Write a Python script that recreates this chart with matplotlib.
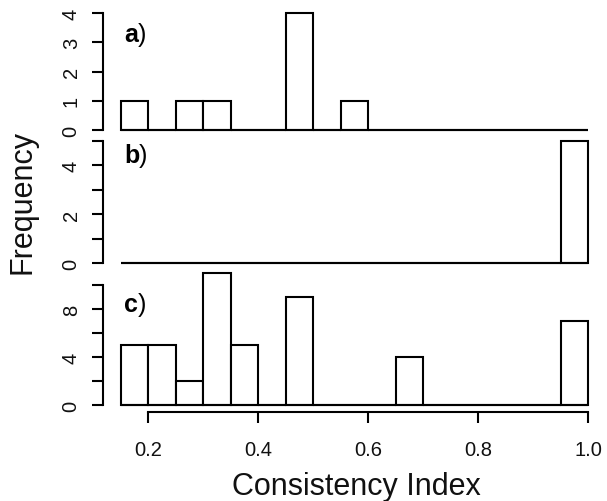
import matplotlib
matplotlib.use("Agg")
import matplotlib.pyplot as plt

plt.rcParams['font.family'] = ['Liberation Sans', 'DejaVu Sans']

# Histogram bins (Consistency Index), width 0.05
bin_edges = [0.15, 0.20, 0.25, 0.30, 0.35, 0.40, 0.45, 0.50, 0.55, 0.60,
             0.65, 0.70, 0.75, 0.80, 0.85, 0.90, 0.95, 1.00]
counts_a = [1, 0, 1, 1, 0, 0, 4, 0, 1, 0, 0, 0, 0, 0, 0, 0, 0]
counts_b = [0, 0, 0, 0, 0, 0, 0, 0, 0, 0, 0, 0, 0, 0, 0, 0, 5]
counts_c = [5, 5, 2, 11, 5, 0, 9, 0, 0, 0, 4, 0, 0, 0, 0, 0, 7]

panel_labels = ["a", "b", "c"]
yticks_a = [0, 1, 2, 3, 4]
ylabels_a = ["0", "1", "2", "3", "4"]
yticks_b = [0, 1, 2, 3, 4, 5]
ylabels_b = ["0", "", "2", "", "4", ""]
yticks_c = [0, 2, 4, 6, 8, 10]
ylabels_c = ["0", "", "4", "", "8", ""]
xticks = [0.2, 0.4, 0.6, 0.8, 1.0]
xticklabels = ["0.2", "0.4", "0.6", "0.8", "1.0"]

W, H = 607, 502
fig = plt.figure(figsize=(W / 100, H / 100), dpi=100)

LW = 1.5
TXT = "#111111"

def make_axes(top, bottom):
    return fig.add_axes([121 / W, (H - bottom) / H, (588 - 121) / W, (bottom - top) / H])

panels = [
    (counts_a, make_axes(14, 131), (0, 4), yticks_a, ylabels_a, 42),
    (counts_b, make_axes(141.7, 264), (0, 5), yticks_b, ylabels_b, 163),
    (counts_c, make_axes(274, 406), (0, 11), yticks_c, ylabels_c, 312),
]

lefts = bin_edges[:-1]
widths = [bin_edges[i + 1] - bin_edges[i] for i in range(len(lefts))]

for idx, (counts, ax, ylim, yt, yl, lab_base) in enumerate(panels):
    ax.bar(lefts, counts, width=widths, align='edge', facecolor='white',
           edgecolor='black', linewidth=LW, clip_on=False, zorder=3)
    ax.hlines(0, bin_edges[0], bin_edges[-1], color='black', linewidth=LW,
              clip_on=False, zorder=4)
    ax.set_xlim(bin_edges[0], bin_edges[-1])
    ax.set_ylim(*ylim)
    ax.patch.set_visible(False)
    for s in ['top', 'right']:
        ax.spines[s].set_visible(False)
    ax.spines['left'].set_position(('outward', 13))
    ax.spines['left'].set_bounds(yt[0], yt[-1])
    ax.spines['left'].set_linewidth(LW)
    ax.set_yticks(yt)
    ax.set_yticklabels(yl, rotation=90, va='center')
    ax.tick_params(axis='y', direction='out', length=8, width=LW,
                   labelsize=14.5, pad=8, colors='black', labelcolor=TXT)
    if idx < 2:
        ax.spines['bottom'].set_visible(False)
        ax.set_xticks([])
    else:
        ax.spines['bottom'].set_position(('outward', 5))
        ax.spines['bottom'].set_bounds(xticks[0], xticks[-1])
        ax.spines['bottom'].set_linewidth(LW)
        ax.set_xticks(xticks)
        ax.set_xticklabels(xticklabels)
        ax.tick_params(axis='x', direction='out', length=8, width=LW,
                       labelsize=14.5, pad=12, colors='black', labelcolor=TXT)
    # panel label: bold letter + normal parenthesis
    t = fig.text(124 / W, (H - lab_base) / H, panel_labels[idx], fontsize=18,
                 fontweight='bold', color='black', ha='left', va='baseline')
    ax.annotate(")", xy=(1, H - lab_base), xycoords=(t, 'figure pixels'),
                fontsize=18, color='black', ha='left', va='baseline',
                annotation_clip=False)

fig.text(23 / W, (H - 202) / H, "Frequency", rotation=90, fontsize=22,
         ha='center', va='center', color=TXT)
fig.text(356 / W, (H - 495) / H, "Consistency Index", fontsize=22,
         ha='center', va='baseline', color=TXT)

fig.savefig("out.png", dpi=100, facecolor='white')
